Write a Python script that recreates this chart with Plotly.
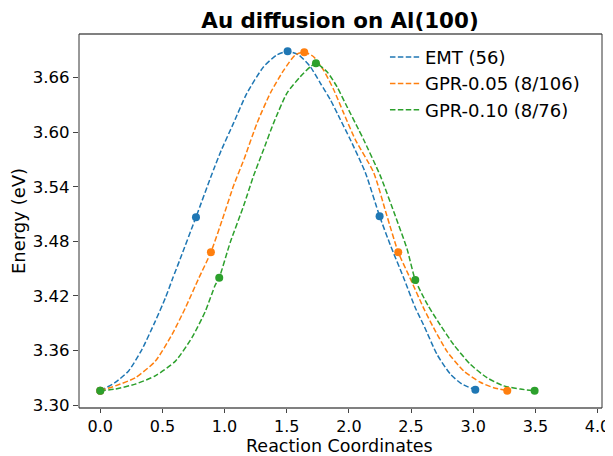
import plotly.graph_objects as go

# NEB images (reaction coordinate, energy) for each run
lstNames = ["EMT (56)", "GPR-0.05 (8/106)", "GPR-0.10 (8/76)"]
lstColors = ["#1f77b4", "#ff7f0e", "#2ca02c"]

emtImgX = [0.0, 0.77, 1.507, 2.247, 3.017]
emtImgY = [3.3157, 3.5066, 3.689, 3.5077, 3.3168]
gpr05ImgX = [0.0, 0.89, 1.641, 2.397, 3.274]
gpr05ImgY = [3.3157, 3.468, 3.688, 3.468, 3.3157]
gpr10ImgX = [0.0, 0.957, 1.735, 2.534, 3.494]
gpr10ImgY = [3.3157, 3.440, 3.6757, 3.4375, 3.3157]

# fitted energy path
emtFitX = [0.0, 0.121, 0.228, 0.335, 0.442, 0.523, 0.582, 0.644, 0.77, 0.912, 0.973,
           1.072, 1.18, 1.314, 1.421, 1.507, 1.596, 1.69, 1.77, 1.85, 1.931, 2.011,
           2.132, 2.247, 2.333, 2.44, 2.534, 2.601, 2.709, 2.816, 2.91, 3.017]
emtFitY = [3.3157, 3.3248, 3.3375, 3.361, 3.392, 3.4175, 3.439, 3.461, 3.5066, 3.559, 3.58,
           3.61, 3.643, 3.672, 3.685, 3.689, 3.685, 3.672, 3.654, 3.636, 3.614, 3.592,
           3.5557, 3.5077, 3.476, 3.44, 3.407, 3.388, 3.3556, 3.334, 3.323, 3.3168]
gpr05FitX = [0.0, 0.121, 0.282, 0.442, 0.577, 0.684, 0.791, 0.89, 0.992, 1.072, 1.161,
             1.261, 1.368, 1.475, 1.569, 1.641, 1.716, 1.797, 1.877, 1.958, 2.051,
             2.199, 2.306, 2.397, 2.494, 2.601, 2.681, 2.789, 2.923, 3.057, 3.164, 3.274]
gpr05FitY = [3.3157, 3.321, 3.33, 3.348, 3.3775, 3.4066, 3.439, 3.468, 3.508, 3.541, 3.572,
             3.61, 3.643, 3.668, 3.685, 3.688, 3.683, 3.668, 3.647, 3.621, 3.592,
             3.5557, 3.508, 3.468, 3.439, 3.4066, 3.385, 3.359, 3.3375, 3.325, 3.319, 3.3157]
gpr10FitX = [0.0, 0.121, 0.282, 0.442, 0.603, 0.737, 0.845, 0.925, 0.957, 1.046, 1.153,
             1.233, 1.314, 1.394, 1.502, 1.609, 1.69, 1.735, 1.824, 1.904, 1.985, 2.078,
             2.118, 2.253, 2.373, 2.467, 2.534, 2.634, 2.735, 2.842, 2.977, 3.111, 3.245,
             3.379, 3.494]
gpr10FitY = [3.3157, 3.3175, 3.323, 3.332, 3.348, 3.374, 3.403, 3.432, 3.44, 3.479, 3.519,
             3.552, 3.581, 3.61, 3.643, 3.661, 3.672, 3.6757, 3.6665, 3.65, 3.628, 3.603,
             3.592, 3.552, 3.508, 3.472, 3.4375, 3.41, 3.388, 3.3665, 3.3447, 3.33, 3.321,
             3.3175, 3.3157]

lstYTicks = [3.30, 3.36, 3.42, 3.48, 3.54, 3.60, 3.66]
lstXTicks = [0.0, 0.5, 1.0, 1.5, 2.0, 2.5, 3.0, 3.5, 4.0]

lstFits = [(emtFitX, emtFitY), (gpr05FitX, gpr05FitY), (gpr10FitX, gpr10FitY)]
lstImgs = [(emtImgX, emtImgY), (gpr05ImgX, gpr05ImgY), (gpr10ImgX, gpr10ImgY)]

fig = go.Figure()
for i in range(3):
    fig.add_trace(go.Scatter(x=lstFits[i][0], y=lstFits[i][1], mode="lines", name=lstNames[i],
                             line=dict(color=lstColors[i], width=1.5, dash="5.5px,2.4px",
                                       shape="spline", smoothing=0.6)))
for i in range(3):
    fig.add_trace(go.Scatter(x=lstImgs[i][0], y=lstImgs[i][1], mode="markers", showlegend=False,
                             marker=dict(color=lstColors[i], size=8)))

# matplotlib-like spines: gray top/bottom, dark left/right
for x0, y0, x1, y1, col, w in [(0, 1, 1, 1, "#808080", 2), (0, 0, 1, 0, "#808080", 2),
                               (0, 0, 0, 1, "#333333", 1), (1, 0, 1, 1, "#333333", 1)]:
    fig.add_shape(type="line", xref="paper", yref="paper", x0=x0, y0=y0, x1=x1, y1=y1,
                  line=dict(color=col, width=w), layer="above")

# x label as an annotation so it sits right under the tick labels
fig.add_annotation(text="Reaction Coordinates", xref="paper", yref="paper", x=0.499, y=-0.102,
                   xanchor="center", yanchor="middle", showarrow=False, font=dict(size=17.5))

# the page body adds an 8px offset, margins account for it
fig.update_layout(
    width=613, height=456,
    margin=dict(l=71, r=19, t=26, b=56),
    paper_bgcolor="white", plot_bgcolor="white",
    font=dict(family="DejaVu Sans", color="black"),
    title=dict(text="<b>Au diffusion on Al(100)</b>", x=0.5416, xanchor="center",
               y=0.972, yanchor="middle", font=dict(size=21.4)),
    legend=dict(x=0.585, y=0.987, xanchor="left", yanchor="top", bgcolor="rgba(0,0,0,0)",
                font=dict(size=18), tracegroupgap=0, itemwidth=30),
    xaxis=dict(range=[-0.171, 4.036], tickvals=lstXTicks, ticktext=[f"{v:.1f}" for v in lstXTicks],
               ticks="outside", ticklen=4, tickcolor="#444", showgrid=False, zeroline=False,
               tickfont=dict(size=16), automargin=False),
    yaxis=dict(range=[3.2967, 3.708], tickvals=lstYTicks, ticktext=[f"{v:.2f}" for v in lstYTicks],
               ticks="outside", ticklen=5, tickcolor="#444", showgrid=False, zeroline=False,
               tickfont=dict(size=16.6), automargin=False,
               title=dict(text="Energy (eV)", font=dict(size=18), standoff=2)),
)

fig.write_html("out.html")
